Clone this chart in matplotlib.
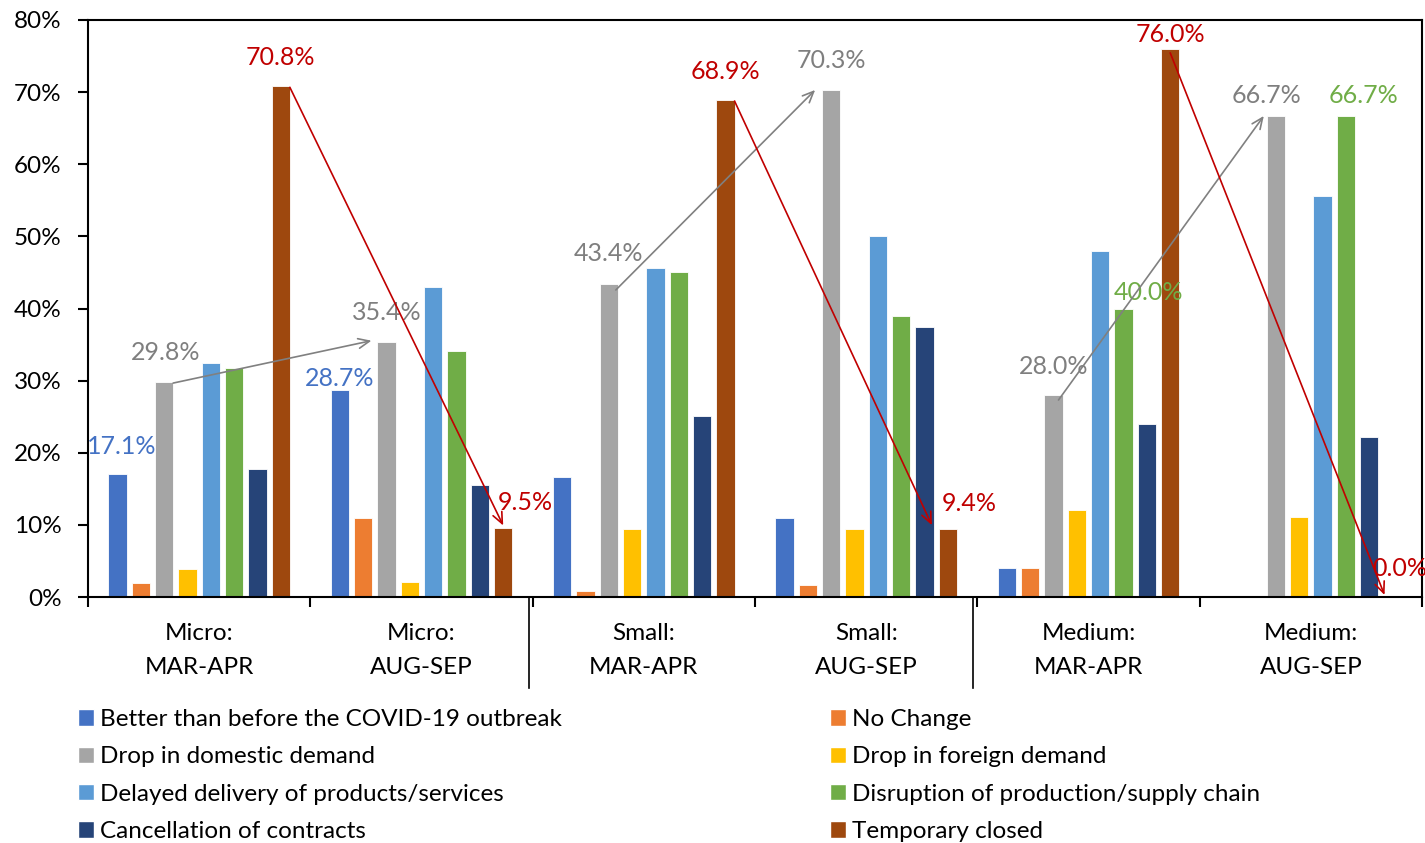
import matplotlib
matplotlib.use("Agg")
import matplotlib.pyplot as plt
from matplotlib.patches import Patch
from matplotlib.transforms import offset_copy, blended_transform_factory
import numpy as np

# ---------------- data ----------------
categories = ["Micro:\nMAR-APR", "Micro:\nAUG-SEP", "Small:\nMAR-APR",
              "Small:\nAUG-SEP", "Medium:\nMAR-APR", "Medium:\nAUG-SEP"]
series_names = ["Better than before the COVID-19 outbreak", "No Change",
                "Drop in domestic demand", "Drop in foreign demand",
                "Delayed delivery of products/services",
                "Disruption of production/supply chain",
                "Cancellation of contracts", "Temporary closed"]
better = [17.1, 28.7, 16.6, 10.9, 4.0, 0.0]
no_change = [2.0, 10.9, 0.9, 1.6, 4.0, 0.0]
domestic = [29.8, 35.4, 43.4, 70.3, 28.0, 66.7]
foreign = [3.9, 2.1, 9.4, 9.4, 12.0, 11.1]
delayed = [32.4, 43.0, 45.6, 50.0, 48.0, 55.6]
disruption = [31.8, 34.1, 45.0, 39.0, 40.0, 66.7]
cancellation = [17.7, 15.5, 25.1, 37.5, 24.0, 22.2]
closed = [70.8, 9.5, 68.9, 9.4, 76.0, 0.0]
series_values = [better, no_change, domestic, foreign, delayed,
                 disruption, cancellation, closed]
colors = ["#4472C4", "#ED7D31", "#A5A5A5", "#FFC000", "#5B9BD5",
          "#70AD47", "#264478", "#9E480E"]
yticks = [0, 10, 20, 30, 40, 50, 60, 70, 80]

# labelled bars: (series index, group index, dx px, dy px, colour)
labels = [(0, 0, 4, 27, "#4472C4"), (2, 0, 1, 30, "#7F7F7F"),
          (7, 0, 0, 29, "#C00000"), (0, 1, 0, 12, "#4472C4"),
          (2, 1, 0, 29, "#7F7F7F"), (7, 1, 22, 26, "#C00000"),
          (2, 2, 0, 30, "#7F7F7F"), (7, 2, 0, 29, "#C00000"),
          (2, 3, 0, 29, "#7F7F7F"), (7, 3, 21, 26, "#C00000"),
          (2, 4, 0, 29, "#7F7F7F"), (5, 4, 25, 16, "#70AD47"),
          (7, 4, 0, 14, "#C00000"), (2, 5, -9, 20, "#7F7F7F"),
          (5, 5, 18, 20, "#70AD47"), (7, 5, 7, 29, "#C00000")]

# arrows: (series, from group, start dx px, start dy px, to group, end dx px, end dy px, colour)
arrows = [(2, 0, 9, -1, 1, -15, 1, "#808080"),
          (2, 2, 7, -6, 3, -16, 0, "#808080"),
          (2, 4, 5, -5, 5, -12, 0, "#808080"),
          (7, 0, 9, -1, 1, 0, 3, "#C00000"),
          (7, 2, 9, -1, 3, -16, 4, "#C00000"),
          (7, 4, 0, -4, 5, -8, 2, "#C00000")]

# ---------------- figure ----------------
plt.rcParams['font.family'] = ['Lato', 'DejaVu Sans']
DPI = 100
FS = 17.5
fig = plt.figure(figsize=(14.25, 8.43), dpi=DPI)
ax = fig.add_axes([88 / 1425, 1 - 597 / 843, (1422 - 88) / 1425, (597 - 20) / 843])

n = len(series_values)
step = 0.105
width = 0.082
x = np.arange(len(categories))
for i, (vals, c, name) in enumerate(zip(series_values, colors, series_names)):
    ax.bar(x + (i - (n - 1) / 2) * step, vals, width, color=c,
           edgecolor="white", linewidth=0.6, label=name, zorder=2)

ax.set_xlim(-0.5, len(categories) - 0.5)
ax.set_ylim(0, 80)
ax.set_yticks(yticks)
ax.set_yticklabels([f"{v}%" for v in yticks], fontsize=FS)
ax.tick_params(axis='y', direction='out', length=7, width=1.5, pad=12)

ax.set_xticks(x)
ax.set_xticklabels(categories, fontsize=FS, linespacing=1.75)
ax.tick_params(axis='x', which='major', length=0, pad=19)
ax.set_xticks(np.arange(len(categories) + 1) - 0.5, minor=True)
ax.tick_params(axis='x', which='minor', direction='out', length=7, width=1.5)
for sp in ax.spines.values():
    sp.set_linewidth(1.5)
    sp.set_color("black")

# separators between firm sizes
trans = blended_transform_factory(ax.transData, ax.transAxes)
for b in [1.5, 3.5]:
    ax.plot([b - 0.018, b - 0.018], [0, -0.158], color="black", lw=1.2,
            transform=trans, clip_on=False)

def bar_x(series, group):
    return group + (series - (n - 1) / 2) * step

for s, g, dx, dy, col in labels:
    v = series_values[s][g]
    ax.text(bar_x(s, g), v, f"{v:.1f}%", color=col, fontsize=18,
            ha="center", va="center", zorder=5,
            transform=offset_copy(ax.transData, fig=fig, x=dx, y=dy, units='dots'))

for s, g0, sdx, sdy, g1, edx, edy, col in arrows:
    v0 = series_values[s][g0]
    v1 = series_values[s][g1]
    ax.annotate("", xy=(bar_x(s, g1), v1),
                xycoords=offset_copy(ax.transData, fig=fig, x=edx, y=edy, units='dots'),
                xytext=(bar_x(s, g0), v0),
                textcoords=offset_copy(ax.transData, fig=fig, x=sdx, y=sdy, units='dots'),
                arrowprops=dict(arrowstyle="->,head_length=0.8,head_width=0.35",
                                color=col, lw=1.2, shrinkA=0, shrinkB=0),
                zorder=6)

# legend in two columns
handles = [Patch(facecolor=c, edgecolor="white") for c in colors]
common = dict(frameon=False, fontsize=FS, handlelength=0.66, handleheight=0.66,
              handletextpad=0.25, labelspacing=0.67, borderpad=0, borderaxespad=0,
              loc="upper left")
fig.legend(handles[0::2], series_names[0::2],
           bbox_to_anchor=(78 / 1425, 1 - 709 / 843), **common)
fig.legend(handles[1::2], series_names[1::2],
           bbox_to_anchor=(830 / 1425, 1 - 709 / 843), **common)

fig.savefig("out.png", dpi=DPI)
